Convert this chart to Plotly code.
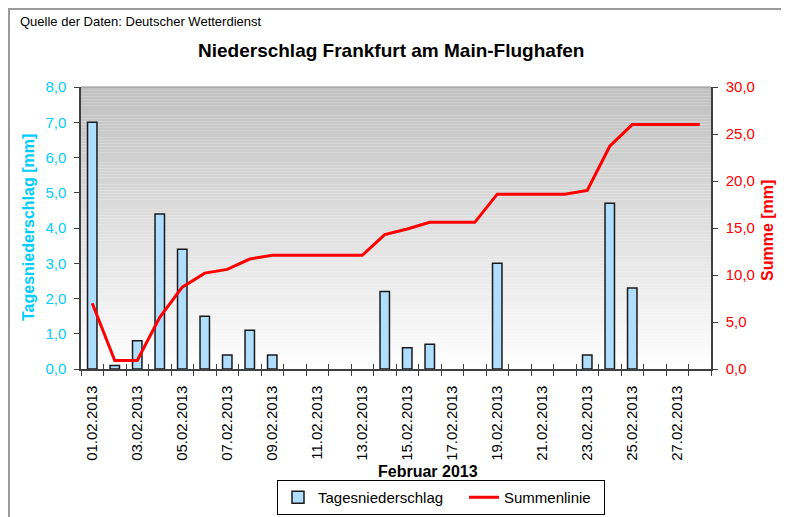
import plotly.graph_objects as go

# ---------------- data ----------------
dates = ["01.02.2013", "02.02.2013", "03.02.2013", "04.02.2013", "05.02.2013",
         "06.02.2013", "07.02.2013", "08.02.2013", "09.02.2013", "10.02.2013",
         "11.02.2013", "12.02.2013", "13.02.2013", "14.02.2013", "15.02.2013",
         "16.02.2013", "17.02.2013", "18.02.2013", "19.02.2013", "20.02.2013",
         "21.02.2013", "22.02.2013", "23.02.2013", "24.02.2013", "25.02.2013",
         "26.02.2013", "27.02.2013", "28.02.2013"]
tagesniederschlag = [7.0, 0.1, 0.8, 4.4, 3.4, 1.5, 0.4, 1.1, 0.4, 0.0,
                     0.0, 0.0, 0.0, 2.2, 0.6, 0.7, 0.0, 0.0, 3.0, 0.0,
                     0.0, 0.0, 0.4, 4.7, 2.3, 0.0, 0.0, 0.0]
summenlinie = [7.0, 0.9, 0.9, 5.5, 8.7, 10.2, 10.6, 11.7, 12.1, 12.1,
               12.1, 12.1, 12.1, 14.3, 14.9, 15.6, 15.6, 15.6, 18.6, 18.6,
               18.6, 18.6, 19.0, 23.7, 26.0, 26.0, 26.0, 26.0]
left_ticks = [0, 1, 2, 3, 4, 5, 6, 7, 8]
right_ticks = [0, 5, 10, 15, 20, 25, 30]

# ---------------- layout geometry ----------------
# the page body has an 8px margin, so the figure starts at page (8, 8)
OFF = 8
FIG_W, FIG_H = 789 - OFF, 517 - OFF
# plot area in page pixels: x 81..711, y 87..369
L = 81 - OFF
R = FIG_W - (711 - OFF)
T = 87 - OFF
B = FIG_H - (369 - OFF)
PW = FIG_W - L - R
PH = FIG_H - T - B


def px_x(x):
    """page pixel x -> paper fraction"""
    return (x - OFF - L) / PW


def px_y(y):
    """page pixel y -> paper fraction"""
    return (FIG_H - B - (y - OFF)) / PH


FONT = "Liberation Sans, Arial, sans-serif"
CYAN = "#00CCFF"
RED = "#FF0000"
AXIS = "#404040"

day = [i + 1 for i in range(len(dates))]
label_idx = list(range(0, len(dates), 2))
bar_vals = [v if v > 0 else None for v in tagesniederschlag]

fig = go.Figure()
fig.add_trace(go.Bar(
    x=day, y=bar_vals, name="Tagesniederschlag",
    width=0.42, legendwidth=141,
    marker=dict(color="#B0DEFF", line=dict(color="#1A1A1A", width=1.5)),
    xaxis="x", yaxis="y",
))
fig.add_trace(go.Scatter(
    x=day, y=summenlinie, name="Summenlinie", mode="lines",
    legendwidth=95,
    line=dict(color=RED, width=3),
    xaxis="x2", yaxis="y2",
))

# background gradient (grey at top to white at bottom)
shapes = []
N = 90
for i in range(N):
    f = (i + 0.5) / N
    c = int(round(255 - (255 - 192) * f))
    shapes.append(dict(type="rect", xref="x domain", yref="y domain",
                       x0=0, x1=1, y0=i / N, y1=(i + 1) / N,
                       fillcolor=f"rgb({c},{c},{c})", line=dict(width=0),
                       layer="below"))
# top edge of plot area
shapes.append(dict(type="line", xref="x domain", yref="y domain",
                   x0=0, x1=1, y0=1, y1=1, line=dict(color="#909090", width=1)))
# outer chart border
shapes.append(dict(type="rect", xref="paper", yref="paper",
                   x0=px_x(9), x1=px_x(782), y0=px_y(540), y1=px_y(9),
                   line=dict(color="#9A9A9A", width=2), fillcolor="rgba(0,0,0,0)"))

annotations = [
    dict(text="Quelle der Daten: Deutscher Wetterdienst", x=px_x(18), y=px_y(21),
         xref="paper", yref="paper", xanchor="left", yanchor="middle",
         showarrow=False, font=dict(family=FONT, size=13, color="#000000")),
    dict(text="<b>Niederschlag Frankfurt am Main-Flughafen</b>", x=px_x(391), y=px_y(50),
         xref="paper", yref="paper", xanchor="center", yanchor="middle",
         showarrow=False, font=dict(family=FONT, size=19, color="#000000")),
    dict(text="<b>Februar 2013</b>", x=px_x(428), y=px_y(471),
         xref="paper", yref="paper", xanchor="center", yanchor="middle",
         showarrow=False, font=dict(family=FONT, size=16, color="#000000")),
    dict(text="<b>Tagesniederschlag [mm]</b>", x=px_x(28), y=px_y(228),
         xref="paper", yref="paper", xanchor="center", yanchor="middle",
         textangle=-90, showarrow=False, font=dict(family=FONT, size=16, color=CYAN)),
    dict(text="<b>Summe [mm]</b>", x=px_x(767), y=px_y(230),
         xref="paper", yref="paper", xanchor="center", yanchor="middle",
         textangle=-90, showarrow=False, font=dict(family=FONT, size=16, color=RED)),
]

fig.update_layout(
    width=FIG_W, height=FIG_H,
    margin=dict(l=L, r=R, t=T, b=B, pad=0, autoexpand=False),
    paper_bgcolor="white", plot_bgcolor="white",
    separators=",.",
    font=dict(family=FONT, size=15, color="#000000"),
    showlegend=True,
    legend=dict(orientation="h", x=px_x(277), y=px_y(480), xanchor="left", yanchor="top",
                bordercolor="#000000", borderwidth=1, bgcolor="white",
                font=dict(family=FONT, size=15, color="#000000"),
                traceorder="normal"),
    shapes=shapes,
    annotations=annotations,
    xaxis=dict(
        range=[0.5, 28.5], tickmode="array", automargin=False,
        tickvals=[day[i] for i in label_idx], ticktext=[dates[i] for i in label_idx],
        tickangle=-90, ticks="", ticklabelstandoff=9,
        tickfont=dict(family=FONT, size=15, color="#000000"),
        showline=True, linecolor=AXIS, linewidth=1.5,
        showgrid=False, zeroline=False,
        minor=dict(tickmode="linear", tick0=0.5, dtick=1, ticks="outside",
                   ticklen=5, tickcolor=AXIS, tickwidth=1),
    ),
    xaxis2=dict(
        range=[0.5, 28.5], overlaying="x", anchor="y", side="bottom", automargin=False,
        tickmode="linear", tick0=0.5, dtick=1, ticks="inside", ticklen=5,
        tickcolor=AXIS, tickwidth=1, showticklabels=False,
        showline=False, showgrid=False, zeroline=False,
    ),
    yaxis=dict(
        range=[0, 8], tickmode="array", tickvals=left_ticks, tickformat=".1f",
        automargin=False,
        ticks="outside", ticklen=5, tickcolor=AXIS, tickwidth=1,
        ticklabelstandoff=5,
        tickfont=dict(family=FONT, size=15, color=CYAN),
        showline=True, linecolor=AXIS, linewidth=1.5,
        showgrid=False, zeroline=False,
    ),
    yaxis2=dict(
        range=[0, 30], overlaying="y", side="right", anchor="x", automargin=False,
        tickmode="array", tickvals=right_ticks, tickformat=".1f",
        ticks="outside", ticklen=5, tickcolor=AXIS, tickwidth=1,
        ticklabelstandoff=5,
        tickfont=dict(family=FONT, size=15, color=RED),
        showline=True, linecolor=AXIS, linewidth=1.5,
        showgrid=False, zeroline=False,
    ),
)

fig.write_html("out.html")
